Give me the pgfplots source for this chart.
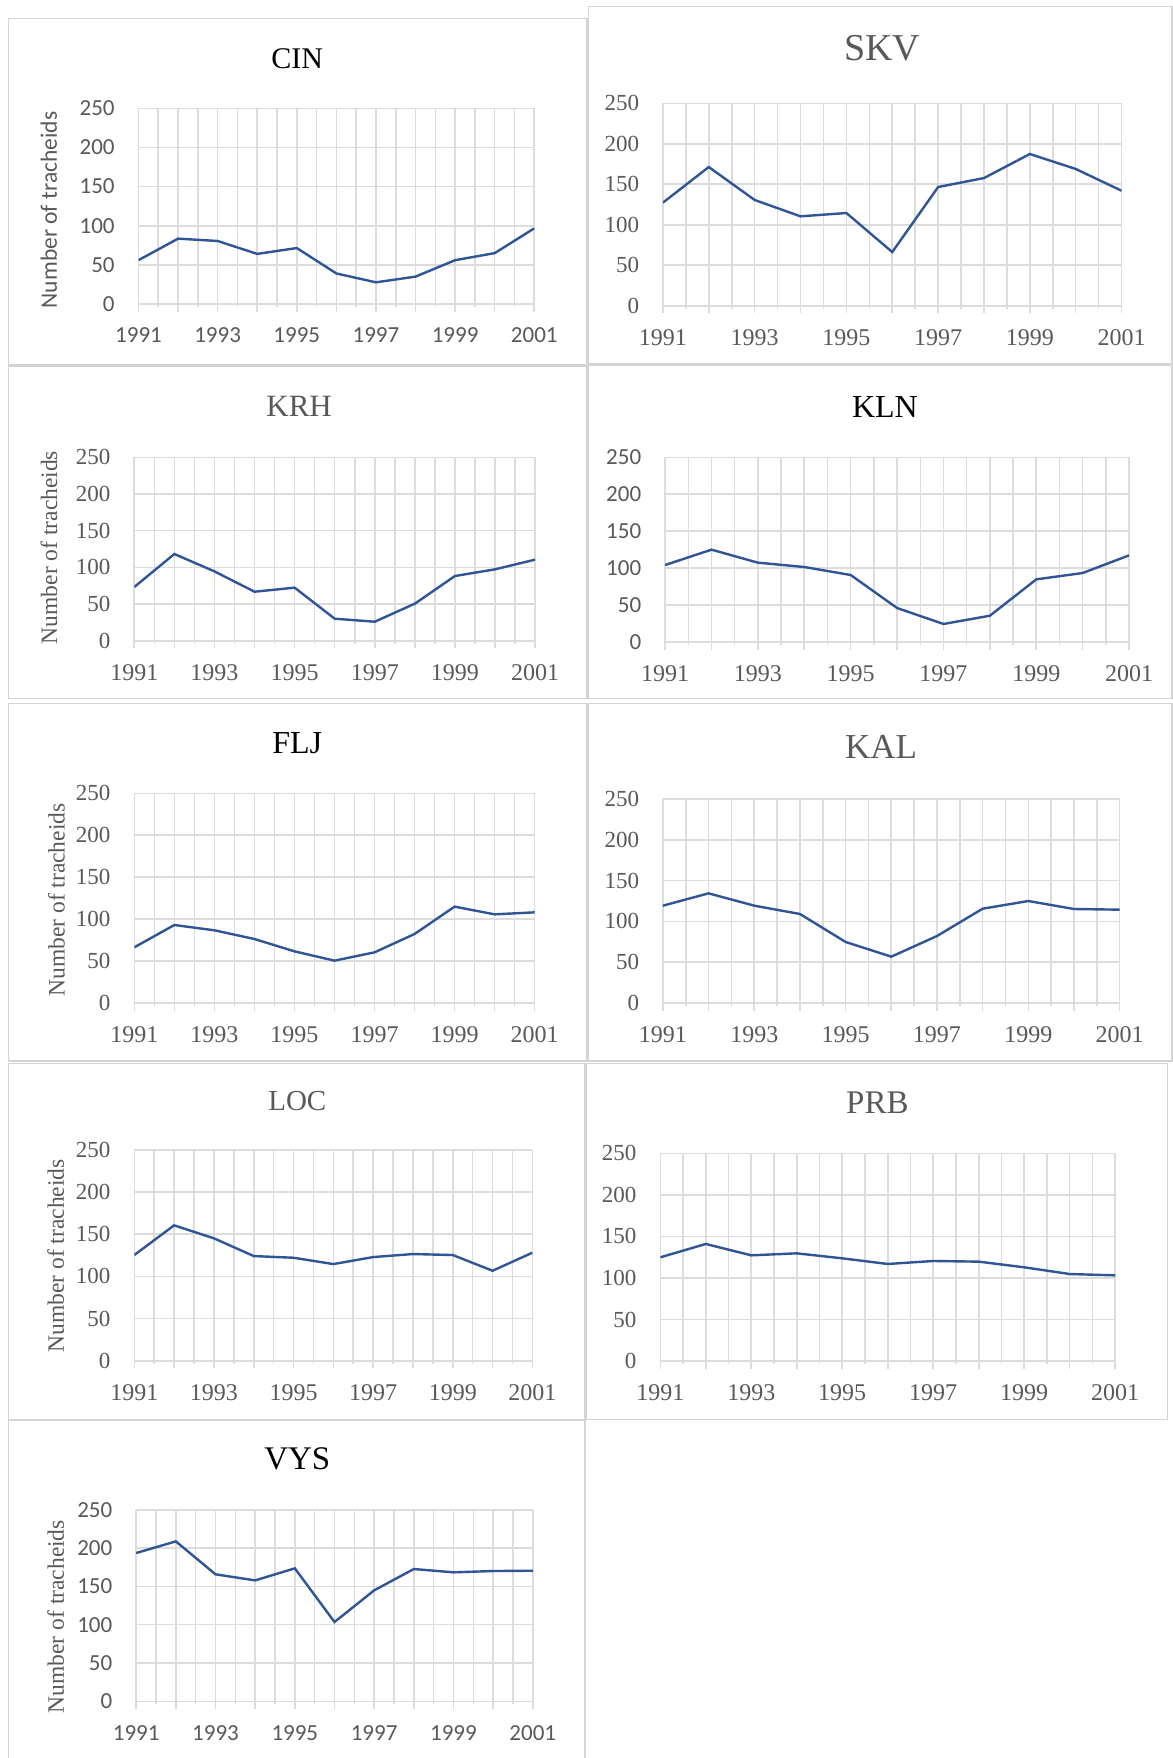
\documentclass[border=0pt]{standalone}
\usepackage{fontspec}
\setmainfont{Liberation Serif}
\newfontfamily\calibri{Carlito}
\usepackage{pgfplots}
\pgfplotsset{compat=1.18}
\definecolor{lineblue}{RGB}{47,85,151}
\definecolor{gridc}{RGB}{220,220,220}
\definecolor{txt}{RGB}{89,89,89}
\definecolor{frame}{RGB}{212,212,212}
\newcommand{\sansfs}{\calibri\fontsize{11.5}{13}\selectfont}
\newcommand{\seriffs}{\fontsize{11.5}{13}\selectfont}
\newcommand{\serifxfs}{\fontsize{12}{13}\selectfont}
\pgfplotsset{
  base/.style={
    scale only axis, anchor=south west,
    xmin=1991, xmax=2001, ymin=0, ymax=250,
    xtick={1991,...,2001},
    xticklabels={1991,,1993,,1995,,1997,,1999,,2001},
    minor xtick={1991.5,1992.5,...,2000.5},
    ytick={0,50,...,250},
    xmajorgrids, xminorgrids, ymajorgrids,
    grid style={draw=gridc, line width=0.8pt},
    minor grid style={draw=gridc, line width=0.8pt},
    axis line style={draw=none},
    tick align=center, xtick pos=left, ytick pos=left,
    major tick length=7.5pt,
    xtick style={draw=gridc, line width=0.8pt},
    minor tick style={draw=none},
    ytick style={draw=none},
    /pgf/number format/assume math mode=true,
    /pgf/number format/1000 sep={},
    yticklabel style={color=txt, anchor=east, inner sep=0pt, xshift=-8pt},
    xticklabel style={color=txt, anchor=north, inner sep=0pt, yshift=-8pt},
  },
  ys/.style={yticklabel style={font=\sansfs}},
  yr/.style={yticklabel style={font=\seriffs}},
  xs/.style={xticklabel style={font=\sansfs}},
  xr/.style={xticklabel style={font=\serifxfs}},
  ln/.style={color=lineblue, line width=1.2pt},
}
\begin{document}
\begin{tikzpicture}
\begin{scope}[x=0.5pt,y=-0.5pt]
  \useasboundingbox (0,0) rectangle (1173,1758);
  \fill[white] (0,0) rectangle (1173,1758);
  % panel frames
  \draw[frame, line width=0.8pt] (8.5,18.5) rectangle (587,365);
  \draw[frame, line width=0.8pt] (588.5,6.5) rectangle (1172,363.5);
  \draw[frame, line width=0.8pt] (8.5,366.5) rectangle (587,698.5);
  \draw[frame, line width=0.8pt] (588.5,365) rectangle (1172,698.5);
  \draw[frame, line width=0.8pt] (8.5,703.5) rectangle (587,1061);
  \draw[frame, line width=0.8pt] (588.5,703.5) rectangle (1172,1061);
  \draw[frame, line width=0.8pt] (8.5,1063.5) rectangle (585,1419.5);
  \draw[frame, line width=0.8pt] (586.5,1063.5) rectangle (1167.5,1419.5);
  \draw[frame, line width=0.8pt] (8.5,1420.5) rectangle (585,1760);
  % axis anchors
  \coordinate (cin) at (138.5,304.0);
  \coordinate (skv) at (662.9,305.7);
  \coordinate (krh) at (134.3,640.7);
  \coordinate (kln) at (665.1,642.0);
  \coordinate (flj) at (134.3,1003.0);
  \coordinate (kal) at (662.9,1003.0);
  \coordinate (loc) at (134.3,1360.7);
  \coordinate (prb) at (660.3,1361.0);
  \coordinate (vys) at (136.2,1701.3);
  % titles
  \node[black, font=\fontsize{15}{17}\selectfont] at (297.3,58.3) {CIN};
  \node[txt, font=\fontsize{19}{21}\selectfont] at (882.3,48.3) {SKV};
  \node[txt, font=\fontsize{15.5}{17}\selectfont] at (299.1,406.7) {KRH};
  \node[black, font=\fontsize{16}{18}\selectfont] at (884.9,406.7) {KLN};
  \node[black, font=\fontsize{16}{18}\selectfont] at (297.3,742.7) {FLJ};
  \node[txt, font=\fontsize{17.5}{19}\selectfont] at (881.1,746.7) {KAL};
  \node[txt, font=\fontsize{14.5}{16}\selectfont] at (297.3,1100.7) {LOC};
  \node[txt, font=\fontsize{16.5}{18}\selectfont] at (877.4,1102.3) {PRB};
  \node[black, font=\fontsize{16.5}{18}\selectfont] at (297.3,1459) {VYS};
  % y labels
  \node[txt, rotate=90, font=\calibri\fontsize{11.75}{13}\selectfont] at (48.9,210) {Number of tracheids};
  \node[txt, rotate=90, font=\fontsize{11.75}{13}\selectfont] at (48.9,547.5) {Number of tracheids};
  \node[txt, rotate=90, font=\fontsize{11.75}{13}\selectfont] at (56.4,900) {Number of tracheids};
  \node[txt, rotate=90, font=\fontsize{11.75}{13}\selectfont] at (55.7,1255.8) {Number of tracheids};
  \node[txt, rotate=90, font=\fontsize{11.75}{13}\selectfont] at (55.7,1616.7) {Number of tracheids};
\end{scope}

% CIN
\begin{axis}[base, ys, xs, at={(cin)}, width=197.9pt, height=97.85pt]
\addplot[ln] coordinates {(1991,56)(1992,83.5)(1993,80.5)(1994,64)(1995,71.5)(1996,39)(1997,27.7)(1998,35)(1999,56)(2000,65)(2001,96.7)};
\end{axis}
% SKV
\begin{axis}[base, yr, xr, at={(skv)}, width=229.35pt, height=101.2pt]
\addplot[ln] coordinates {(1991,127.3)(1992,171.3)(1993,130.6)(1994,110.4)(1995,114.5)(1996,66.3)(1997,146.6)(1998,157.7)(1999,187.4)(2000,168.9)(2001,142)};
\end{axis}
% KRH
\begin{axis}[base, yr, xr, at={(krh)}, width=200.4pt, height=91.7pt]
\addplot[ln] coordinates {(1991,73.2)(1992,118.2)(1993,94.5)(1994,66.8)(1995,72.3)(1996,30)(1997,25.9)(1998,50.5)(1999,88.2)(2000,97.3)(2001,110.5)};
\end{axis}
% KLN
\begin{axis}[base, ys, xr, at={(kln)}, width=232pt, height=92.35pt]
\addplot[ln] coordinates {(1991,104.2)(1992,125)(1993,107.4)(1994,101.5)(1995,90.7)(1996,46)(1997,24.4)(1998,35.6)(1999,84.8)(2000,93.4)(2001,117.3)};
\end{axis}
% FLJ
\begin{axis}[base, yr, xr, at={(flj)}, width=200.2pt, height=104.85pt]
\addplot[ln] coordinates {(1991,66.4)(1992,93)(1993,86.7)(1994,76.3)(1995,61.6)(1996,50.5)(1997,60.4)(1998,82.3)(1999,114.9)(2000,105.7)(2001,108.1)};
\end{axis}
% KAL
\begin{axis}[base, yr, xr, at={(kal)}, width=228.4pt, height=102pt]
\addplot[ln] coordinates {(1991,119.3)(1992,134.4)(1993,119.3)(1994,109.1)(1995,74.8)(1996,56.8)(1997,82.1)(1998,115.6)(1999,125)(2000,115.2)(2001,114.4)};
\end{axis}
% LOC
\begin{axis}[base, yr, xr, at={(loc)}, width=199.05pt, height=105.5pt]
\addplot[ln] coordinates {(1991,125.2)(1992,160.4)(1993,145)(1994,124)(1995,122)(1996,114.5)(1997,122.8)(1998,126.4)(1999,125.2)(2000,106.6)(2001,128)};
\end{axis}
% PRB
\begin{axis}[base, yr, xr, at={(prb)}, width=227.45pt, height=103.85pt]
\addplot[ln] coordinates {(1991,124.8)(1992,140.9)(1993,127.2)(1994,129.6)(1995,123.6)(1996,116.8)(1997,120.4)(1998,119.6)(1999,112.8)(2000,104.7)(2001,103.1)};
\end{axis}
% VYS
\begin{axis}[base, ys, xs, at={(vys)}, width=198.3pt, height=95.8pt]
\addplot[ln] coordinates {(1991,193.5)(1992,208.7)(1993,165.7)(1994,157.8)(1995,173.5)(1996,103.5)(1997,144.8)(1998,172.6)(1999,168.3)(2000,170)(2001,170.4)};
\end{axis}
\end{tikzpicture}
\end{document}
